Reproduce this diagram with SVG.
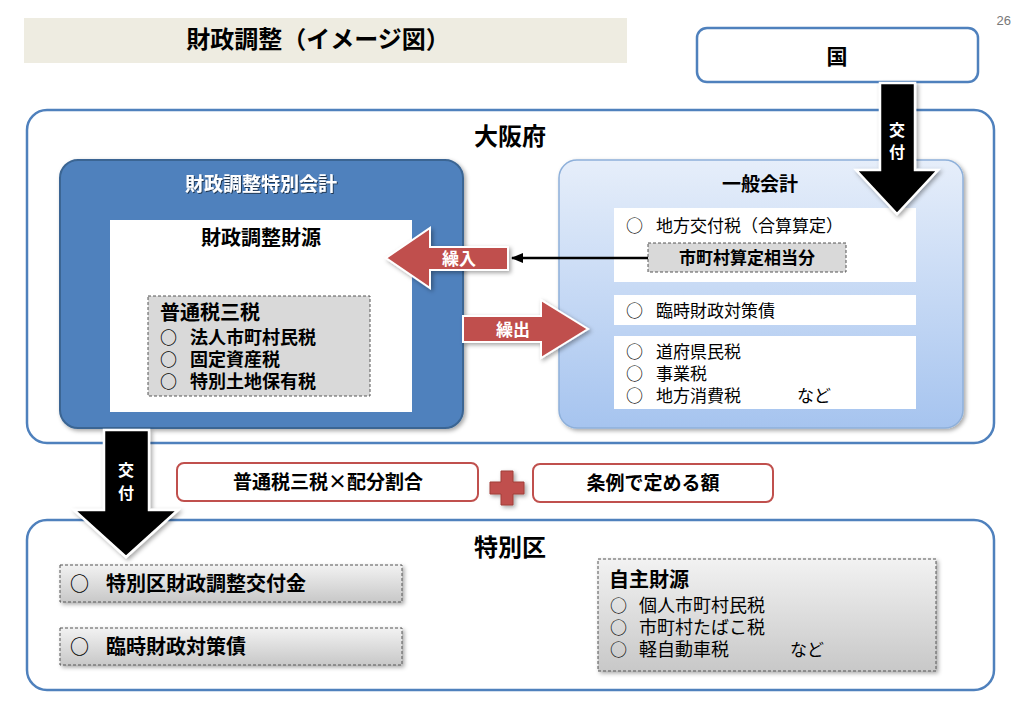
<svg xmlns="http://www.w3.org/2000/svg" width="1023" height="708" viewBox="0 0 1023 708">
<style>
text{font-family:"Noto Sans CJK JP","Noto Sans CJK SC",sans-serif;fill:#000}
.b{font-weight:700}
.c{text-anchor:middle}
.w{fill:#fff}
.frame{fill:#fff;stroke:#4f81bd;stroke-width:2.5}
.wbox{fill:#fff}
.dash{stroke:#555;stroke-width:1;stroke-dasharray:3 2}
.redbox{fill:#fff;stroke:#c0504d;stroke-width:2}
.redarrow{fill:#c0504d;stroke:#fff;stroke-width:2}
.blackarrow{fill:#000;stroke:#fff;stroke-width:2.5}
</style>
<defs>
<linearGradient id="gBlue" x1="0" y1="0" x2="0" y2="1"><stop offset="0" stop-color="#e6eefa"/><stop offset="1" stop-color="#a6c4ef"/></linearGradient>
<linearGradient id="gGray" x1="0" y1="0" x2="0" y2="1"><stop offset="0" stop-color="#f2f2f2"/><stop offset="1" stop-color="#c8c8c8"/></linearGradient>
<filter id="sh" x="-10%" y="-10%" width="130%" height="130%"><feDropShadow dx="2" dy="2" stdDeviation="2" flood-color="#000" flood-opacity="0.35"/></filter>
<filter id="tsh"><feDropShadow dx="1" dy="1" stdDeviation="0.6" flood-color="#000" flood-opacity="0.6"/></filter>
<marker id="ah" markerWidth="12" markerHeight="10" refX="11" refY="5" orient="auto" markerUnits="userSpaceOnUse"><path d="M0,0 L12,5 L0,10 z" fill="#000"/></marker>
</defs>
<rect width="1023" height="708" fill="#fff"/>

<g id="title">
<rect x="24" y="18" width="603" height="45" fill="#eeece1"/>
<text x="318" y="48" class="b c" font-size="24">財政調整（イメージ図）</text>
</g>
<text x="1011" y="25" font-size="13" text-anchor="end" style="fill:#777;font-family:'Liberation Sans',sans-serif">26</text>

<g id="kuni">
<rect x="697" y="28" width="281" height="54" rx="10" class="frame"/>
<text x="837" y="64" class="b c" font-size="21">国</text>
</g>

<g id="osakafu">
<rect x="27" y="110" width="967" height="333" rx="20" class="frame"/>
<text x="510" y="145" class="b c" font-size="24">大阪府</text>
</g>

<g id="tokubetsu-kaikei">
<rect x="60" y="160" width="403" height="268" rx="18" fill="#4f81bd" stroke="#3a6593" stroke-width="2" filter="url(#sh)"/>
<text x="261" y="191" class="b c w" font-size="19" filter="url(#tsh)">財政調整特別会計</text>
<rect x="110" y="220" width="302" height="192" class="wbox"/>
<text x="261" y="245" class="b c" font-size="20">財政調整財源</text>
<rect x="148" y="296" width="222" height="100" fill="#d9d9d9" class="dash"/>
<text x="160" y="320" class="b" font-size="20">普通税三税</text>
<text x="160" y="344" class="b" font-size="17">○</text><text x="190" y="344" class="b" font-size="18">法人市町村民税</text>
<text x="160" y="366" class="b" font-size="17">○</text><text x="190" y="366" class="b" font-size="18">固定資産税</text>
<text x="160" y="388" class="b" font-size="17">○</text><text x="190" y="388" class="b" font-size="18">特別土地保有税</text>
</g>

<g id="ippan-kaikei">
<rect x="559" y="160" width="404" height="268" rx="18" fill="url(#gBlue)" stroke="#8eb0da" stroke-width="1.5" filter="url(#sh)"/>
<text x="760" y="191" class="b c" font-size="19">一般会計</text>
<rect x="614" y="208" width="302" height="74" class="wbox"/>
<text x="626" y="232" font-size="17">○</text><text x="656" y="232" font-size="17">地方交付税（合算算定）</text>
<rect x="648" y="243" width="198" height="29" fill="#d9d9d9" class="dash"/>
<text x="747" y="264" class="b c" font-size="17">市町村算定相当分</text>
<rect x="614" y="295" width="302" height="30" class="wbox"/>
<text x="626" y="317" font-size="17">○</text><text x="656" y="317" font-size="17">臨時財政対策債</text>
<rect x="614" y="336" width="302" height="73" class="wbox"/>
<text x="626" y="358" font-size="17">○</text><text x="656" y="358" font-size="17">道府県民税</text>
<text x="626" y="380" font-size="17">○</text><text x="656" y="380" font-size="17">事業税</text>
<text x="626" y="402" font-size="17">○</text><text x="656" y="402" font-size="17">地方消費税</text><text x="797" y="402" font-size="17">など</text>
</g>

<g id="formula1">
<rect x="177" y="463" width="301" height="38" rx="7" class="redbox"/>
<text x="328" y="489" class="b c" font-size="19">普通税三税×配分割合</text>
</g>
<g id="plus">
<path d="M501,471 h12 v11 h11 v12 h-11 v11 h-12 v-11 h-11 v-12 h11 z" fill="#c0504d" stroke="#a03c3a" stroke-width="1" filter="url(#sh)"/>
</g>
<g id="formula2">
<rect x="533" y="464" width="240" height="38" rx="7" class="redbox"/>
<text x="653" y="490" class="b c" font-size="19">条例で定める額</text>
</g>

<g id="tokubetsuku">
<rect x="27" y="520" width="967" height="170" rx="20" class="frame"/>
<text x="510" y="556" class="b c" font-size="24">特別区</text>
</g>
<g id="kofukin">
<rect x="60" y="565" width="342" height="37" fill="url(#gGray)" class="dash" filter="url(#sh)"/>
<text x="70" y="591" class="b" font-size="19">○</text><text x="106" y="591" class="b" font-size="20">特別区財政調整交付金</text>
</g>
<g id="rinji">
<rect x="60" y="628" width="342" height="37" fill="url(#gGray)" class="dash" filter="url(#sh)"/>
<text x="70" y="654" class="b" font-size="19">○</text><text x="106" y="654" class="b" font-size="20">臨時財政対策債</text>
</g>
<g id="jishu">
<rect x="598" y="559" width="338" height="112" fill="url(#gGray)" class="dash" filter="url(#sh)"/>
<text x="609" y="587" class="b" font-size="20">自主財源</text>
<text x="610" y="612" font-size="17">○</text><text x="639" y="612" font-size="18">個人市町村民税</text>
<text x="610" y="634" font-size="17">○</text><text x="639" y="634" font-size="18">市町村たばこ税</text>
<text x="610" y="656" font-size="17">○</text><text x="639" y="656" font-size="18">軽自動車税</text><text x="790" y="656" font-size="17">など</text>
</g>

<g id="connectors">
<line x1="648" y1="258" x2="512" y2="258" stroke="#000" stroke-width="2.5" marker-end="url(#ah)"/>
<g id="kurire">
<polygon points="386,258 430,228 430,247 508,247 508,270 430,270 430,288" class="redarrow" filter="url(#sh)"/>
<text x="459" y="265" class="b c w" font-size="17">繰入</text>
</g>
<g id="kuridashi">
<polygon points="463,316 541,316 541,300 588,329 541,358 541,342 463,342" class="redarrow" filter="url(#sh)"/>
<text x="513" y="336" class="b c w" font-size="17">繰出</text>
</g>
<g id="kofu-top">
<polygon points="880,83 915,83 915,170 938,170 897,214 856,170 880,170" class="blackarrow" filter="url(#sh)"/>
<text x="897" y="136" class="b c w" font-size="16">交</text>
<text x="897" y="158" class="b c w" font-size="16">付</text>
</g>
<g id="kofu-left">
<polygon points="104,430 149,430 149,510 178,510 126,557 74,510 104,510" class="blackarrow" filter="url(#sh)"/>
<text x="126" y="476" class="b c w" font-size="16">交</text>
<text x="126" y="499" class="b c w" font-size="16">付</text>
</g>
</g>
</svg>
